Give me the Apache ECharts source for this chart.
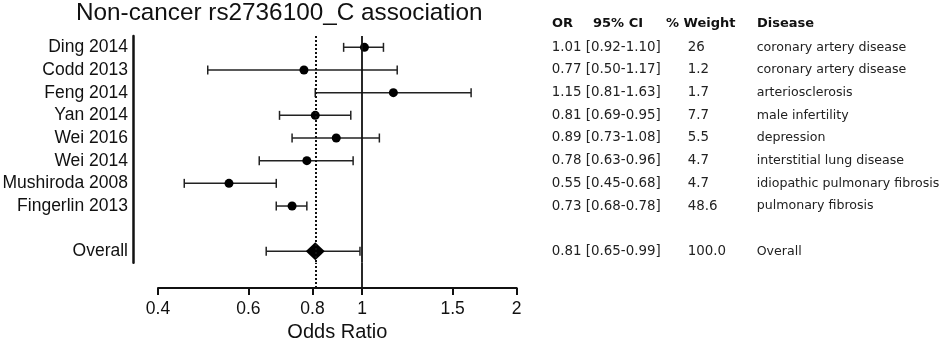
<!DOCTYPE html>
<html>
<head>
<meta charset="utf-8">
<script src="https://cdn.jsdelivr.net/npm/echarts@6/dist/echarts.min.js"></script>
<style>
  html, body { margin: 0; padding: 0; background: #fff; }
  #main { width: 941px; height: 347px; }
</style>
</head>
<body>
<div id="main"></div>
<script>
// forest plot data
var studies = ['Ding 2014', 'Codd 2013', 'Feng 2014', 'Yan 2014', 'Wei 2016', 'Wei 2014', 'Mushiroda 2008', 'Fingerlin 2013', '', 'Overall'];
var orVals = [1.01, 0.77, 1.15, 0.81, 0.89, 0.78, 0.55, 0.73];
var ciLow = [0.92, 0.50, 0.81, 0.69, 0.73, 0.63, 0.45, 0.68];
var ciHigh = [1.10, 1.17, 1.63, 0.95, 1.08, 0.96, 0.68, 0.78];
var weights = ['26', '1.2', '1.7', '7.7', '5.5', '4.7', '4.7', '48.6', '', '100.0'];
var diseases = ['coronary artery disease', 'coronary artery disease', 'arteriosclerosis', 'male infertility', 'depression',
  'interstitial lung disease', 'idiopathic pulmonary fibrosis', 'pulmonary fibrosis', '', 'Overall'];
var overallOR = 0.81, overallLow = 0.65, overallHigh = 0.99;
var xTicks = [0.4, 0.6, 0.8, 1, 1.5, 2];
var refLine = 1;

var allOR = orVals.concat([null, overallOR]);
var allLow = ciLow.concat([null, overallLow]);
var allHigh = ciHigh.concat([null, overallHigh]);

var ciText = allOR.map(function(v, i) {
  if (v == null) return '';
  return v.toFixed(2) + ' [' + allLow[i].toFixed(2) + '-' + allHigh[i].toFixed(2) + ']';
});

var barData = [];
allOR.forEach(function(v, i) {
  if (v != null) barData.push([i, allLow[i], allHigh[i]]);
});
var pointData = orVals.map(function(v, i) { return [v, i]; });

var myChart = echarts.init(document.getElementById('main'));

var sansFont = 'Liberation Sans, Arial, sans-serif';
var tableFont = 'DejaVu Sans, Verdana, sans-serif';

function renderCI(params, api) {
  var y = api.value(0);
  var a = api.coord([api.value(1), y]);
  var b = api.coord([api.value(2), y]);
  var h = 4.5;
  var st = { stroke: '#222', lineWidth: 1.5 };
  return {
    type: 'group',
    children: [
      { type: 'line', shape: { x1: a[0], y1: a[1], x2: b[0], y2: b[1] }, style: st },
      { type: 'line', shape: { x1: a[0], y1: a[1] - h, x2: a[0], y2: a[1] + h }, style: st },
      { type: 'line', shape: { x1: b[0], y1: b[1] - h, x2: b[0], y2: b[1] + h }, style: st }
    ]
  };
}

function tableAxis(data, offset, size) {
  return {
    gridIndex: 0,
    type: 'category',
    position: 'right',
    offset: offset,
    inverse: true,
    data: data,
    axisLine: { show: false },
    axisTick: { show: false },
    splitLine: { show: false },
    axisLabel: { interval: 0, margin: 0, align: 'left', fontFamily: tableFont, fontSize: size, color: '#222' }
  };
}

var refMarks = function() {
  return {
    silent: true,
    symbol: 'none',
    label: { show: false },
    data: [
      { xAxis: refLine, lineStyle: { color: '#111', width: 1.8, type: 'solid' } },
      { xAxis: overallOR, lineStyle: { color: '#111', width: 2, type: [2, 2] } }
    ]
  };
};

var headers = [['OR', 552], ['95% CI', 593], ['% Weight', 666], ['Disease', 757]];

option = {
  animation: false,
  title: {
    text: 'Non-cancer rs2736100_C association',
    left: 76,
    top: 1,
    padding: 0,
    textStyle: { fontFamily: sansFont, fontSize: 24.3, fontWeight: 'normal', color: '#111' }
  },
  graphic: headers.map(function(h) {
    return {
      type: 'text', x: h[1], y: 24,
      style: { text: h[0], font: 'bold 13px ' + tableFont, fill: '#111', textVerticalAlign: 'middle' }
    };
  }),
  grid: [
    { left: 158, right: 424.3, top: 36, height: 226.7, containLabel: false, outerBoundsMode: 'none' },
    { left: 158, right: 424.3, top: 262.7, height: 25.3, containLabel: false, outerBoundsMode: 'none' }
  ],
  xAxis: [
    { gridIndex: 0, type: 'log', min: 0.4, max: 2, show: false },
    {
      gridIndex: 1, type: 'log', min: 0.4, max: 2,
      name: 'Odds Ratio', nameLocation: 'middle', nameGap: 34,
      nameTextStyle: { fontFamily: sansFont, fontSize: 20, color: '#111' },
      axisLine: { lineStyle: { color: '#111', width: 2 } },
      axisTick: { customValues: xTicks, length: 7, lineStyle: { color: '#111', width: 2 } },
      minorTick: { show: false },
      splitLine: { show: false },
      axisLabel: {
        customValues: xTicks, margin: 12,
        fontFamily: sansFont, fontSize: 17.5, color: '#111',
        formatter: function(v) { return String(v); }
      }
    }
  ],
  yAxis: [
    {
      gridIndex: 0, type: 'category', inverse: true, data: studies, offset: 25,
      axisLine: { lineStyle: { color: '#111', width: 2.5 } },
      axisTick: { show: false },
      splitLine: { show: false },
      axisLabel: { interval: 0, margin: 5, fontFamily: sansFont, fontSize: 17.5, color: '#111' }
    },
    tableAxis(ciText, 35, 13.4),
    tableAxis(weights, 171, 13.4),
    tableAxis(diseases, 240, 12.6),
    { gridIndex: 1, type: 'value', min: 0, max: 1, show: false }
  ],
  series: [
    {
      type: 'custom', xAxisIndex: 0, yAxisIndex: 0,
      renderItem: renderCI,
      encode: { x: [1, 2], y: 0 },
      data: barData,
      markLine: refMarks(),
      z: 2
    },
    {
      type: 'scatter', xAxisIndex: 0, yAxisIndex: 0,
      symbol: 'circle', symbolSize: 9,
      itemStyle: { color: '#000', opacity: 1 },
      data: pointData,
      z: 3
    },
    {
      type: 'scatter', xAxisIndex: 0, yAxisIndex: 0,
      symbol: 'diamond', symbolSize: [19, 18],
      itemStyle: { color: '#000', opacity: 1 },
      data: [[overallOR, studies.length - 1]],
      z: 3
    },
    {
      type: 'line', xAxisIndex: 1, yAxisIndex: 4,
      data: [],
      markLine: refMarks()
    }
  ]
};

myChart.setOption(option);
</script>
</body>
</html>
